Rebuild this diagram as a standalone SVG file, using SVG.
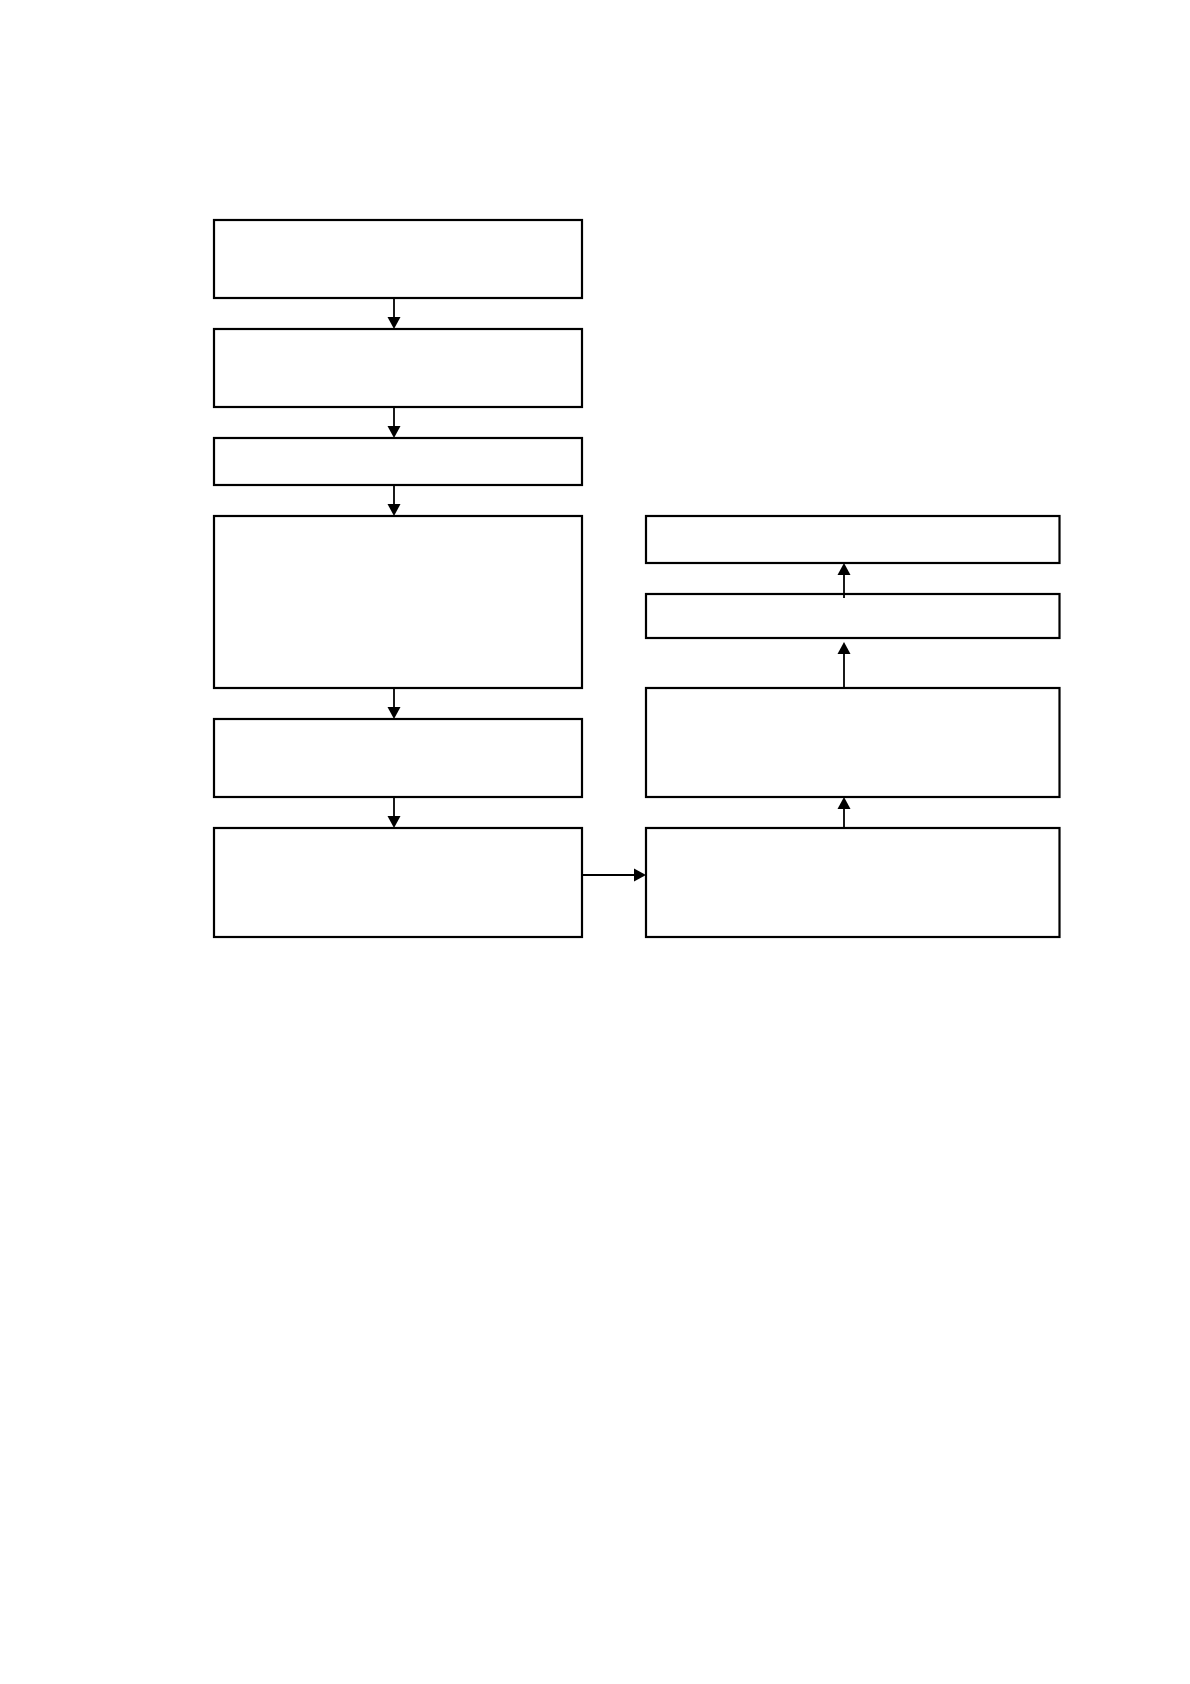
<svg xmlns="http://www.w3.org/2000/svg" width="1190" height="1684" viewBox="0 0 1190 1684">
<style>
.box{fill:#fff;stroke:#000;stroke-width:2.2}
.con{fill:none;stroke:#000;stroke-width:1.8}
.head{fill:#000;stroke:none}
</style>
<rect width="1190" height="1684" fill="#fff"/>
<g id="nodes">
<g id="n1"><rect class="box" x="214" y="220" width="368" height="78"/></g>
<g id="n2"><rect class="box" x="214" y="329" width="368" height="78"/></g>
<g id="n3"><rect class="box" x="214" y="438" width="368" height="47"/></g>
<g id="n4"><rect class="box" x="214" y="516" width="368" height="172"/></g>
<g id="n5"><rect class="box" x="214" y="719" width="368" height="78"/></g>
<g id="n6"><rect class="box" x="214" y="828" width="368" height="109"/></g>
<g id="n7"><rect class="box" x="646" y="516" width="413.5" height="47"/></g>
<g id="n8"><rect class="box" x="646" y="594" width="413.5" height="44"/></g>
<g id="n9"><rect class="box" x="646" y="688" width="413.5" height="109"/></g>
<g id="n10"><rect class="box" x="646" y="828" width="413.5" height="109"/></g>
</g>
<g id="connectors">
<line class="con" x1="394" y1="298" x2="394" y2="317"/>
<polygon class="head" points="387.5,317 400.5,317 394,329"/>
<line class="con" x1="394" y1="407" x2="394" y2="426"/>
<polygon class="head" points="387.5,426 400.5,426 394,438"/>
<line class="con" x1="394" y1="485" x2="394" y2="504"/>
<polygon class="head" points="387.5,504 400.5,504 394,516"/>
<line class="con" x1="394" y1="688" x2="394" y2="707"/>
<polygon class="head" points="387.5,707 400.5,707 394,719"/>
<line class="con" x1="394" y1="797" x2="394" y2="816"/>
<polygon class="head" points="387.5,816 400.5,816 394,828"/>
<line class="con" x1="582" y1="875" x2="634" y2="875"/>
<polygon class="head" points="634,868.5 634,881.5 646,875"/>
<line class="con" x1="844" y1="828" x2="844" y2="809"/>
<polygon class="head" points="837.5,809 850.5,809 844,797"/>
<line class="con" x1="844" y1="688" x2="844" y2="654"/>
<polygon class="head" points="837.5,654 850.5,654 844,642"/>
<line class="con" x1="844" y1="598" x2="844" y2="575"/>
<polygon class="head" points="837.5,575 850.5,575 844,563"/>
</g>
</svg>
